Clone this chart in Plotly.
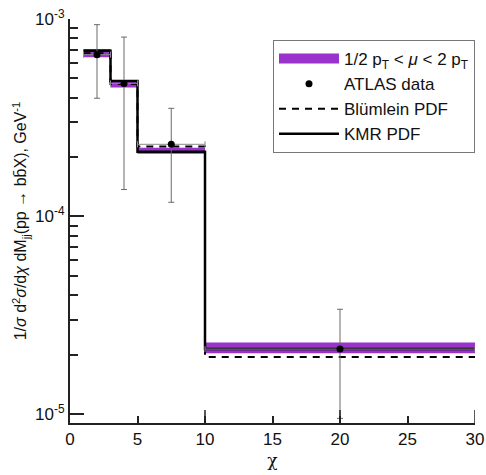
import plotly.graph_objects as go

# ---- data ----
bin_edges = [1, 3, 5, 10, 30]
kmr_pdf = [6.9e-4, 4.85e-4, 2.13e-4, 2.13e-5]
blumlein_pdf = [6.7e-4, 4.69e-4, 2.26e-4, 1.94e-5]
band_low = [6.4e-4, 4.5e-4, 2.08e-4, 2.03e-5]
band_high = [7.05e-4, 4.88e-4, 2.23e-4, 2.30e-5]

atlas_y = [6.6e-4, 4.72e-4, 2.32e-4, 2.13e-5]
atlas_hi = [9.36e-4, 8.1e-4, 3.53e-4, 3.39e-5]
atlas_lo = [3.97e-4, 1.37e-4, 1.18e-4, 9.5e-6]

x_ticks = [0, 5, 10, 15, 20, 25, 30]
x_long_ticks = [10, 20, 30]
y_ticks = [1e-5, 1e-4, 1e-3]
y_ticktext = ["10<sup>-5</sup>", "10<sup>-4</sup>", "10<sup>-3</sup>"]
y_minor = [m * d for d in (1e-5, 1e-4) for m in range(2, 10)]

PURPLE = "#9933CC"
FONT = "Liberation Sans, Arial, sans-serif"


def step(vals):
    return list(vals) + [vals[-1]]


centers = [(a + b) / 2 for a, b in zip(bin_edges[:-1], bin_edges[1:])]
halfw = [(b - a) / 2 for a, b in zip(bin_edges[:-1], bin_edges[1:])]

fig = go.Figure()

# band (lower edge, then upper edge filled to it)
fig.add_trace(go.Scatter(x=bin_edges, y=step(band_low), mode="lines",
                         line=dict(color=PURPLE, width=0, shape="hv"),
                         showlegend=False, hoverinfo="skip"))
fig.add_trace(go.Scatter(x=bin_edges, y=step(band_high), mode="lines",
                         line=dict(color=PURPLE, width=0, shape="hv"),
                         fill="tonexty", fillcolor=PURPLE,
                         showlegend=False, legendgroup="band", hoverinfo="skip"))
# legend entry for band
fig.add_trace(go.Scatter(x=[None], y=[None], mode="lines",
                         line=dict(color=PURPLE, width=12),
                         name="1/2 p<sub>T</sub> &lt; <i>μ</i> &lt; 2 p<sub>T</sub>",
                         legendgroup="band", legendrank=1))

fig.add_trace(go.Scatter(x=bin_edges, y=step(blumlein_pdf), mode="lines",
                         line=dict(color="black", width=2, shape="hv", dash="7px,6px"),
                         name="Blümlein PDF", legendrank=3))
fig.add_trace(go.Scatter(x=bin_edges, y=step(kmr_pdf), mode="lines",
                         line=dict(color="black", width=2.5, shape="hv"),
                         name="KMR PDF", legendrank=4))

fig.add_trace(go.Scatter(
    x=centers, y=atlas_y, mode="markers", name="ATLAS data", legendrank=2,
    marker=dict(color="black", size=7),
    error_y=dict(type="data", symmetric=False,
                 array=[h - y for h, y in zip(atlas_hi, atlas_y)],
                 arrayminus=[y - l for y, l in zip(atlas_y, atlas_lo)],
                 color="#6a6a6a", thickness=1, width=3),
    error_x=dict(type="data", array=halfw, color="#8a8a8a", thickness=1, width=3),
))

for xv in x_long_ticks:
    fig.add_shape(type="line", xref="x", yref="y domain", x0=xv, x1=xv,
                  y0=0, y1=0.032, line=dict(color="#222", width=1.5))

fig.update_layout(
    width=486, height=475,
    margin=dict(l=70, r=11, t=19, b=52),
    paper_bgcolor="white", plot_bgcolor="white",
    font=dict(family=FONT, size=17, color="#111"),
    showlegend=True,
    legend=dict(x=1.0, y=0.948, xanchor="right", yanchor="top",
                bgcolor="white", bordercolor="#777", borderwidth=1,
                font=dict(family=FONT, size=17, color="#111"),
                itemwidth=60, tracegroupgap=0),
)

fig.update_xaxes(
    range=[0, 30], tickvals=x_ticks, ticks="inside", ticklen=7, tickwidth=1.5,
    tickcolor="#222", showline=True, linecolor="#222", linewidth=2,
    showgrid=False, zeroline=False, automargin=False,
    tickfont=dict(family=FONT, size=17, color="#111"),
    title=dict(text="χ", font=dict(family="DejaVu Serif, serif", size=17, color="#111"), standoff=6),
)

fig.update_yaxes(
    type="log", range=[-5.0458, -3], tickvals=y_ticks, ticktext=y_ticktext,
    ticks="inside", ticklen=14, tickwidth=1.5, tickcolor="#222",
    minor=dict(tickvals=y_minor, ticks="inside", ticklen=8, tickwidth=1.5, tickcolor="#222"),
    showline=True, linecolor="#222", linewidth=2, showgrid=False, zeroline=False,
    automargin=False,
    tickfont=dict(family=FONT, size=17, color="#111"),
    title=dict(text="1/<i>σ</i> d<sup>2</sup><i>σ</i>/d<i>χ</i> dM<sub>jj</sub>(pp → bb\u0304X), GeV<sup>-1</sup>",
               font=dict(family=FONT, size=16, color="#111"), standoff=4),
)

# remove the browser's default 8px body margin so the figure sits at (0, 0)
fig.write_html("out.html", config={"displayModeBar": False},
               post_script="document.body.style.margin='0';")
